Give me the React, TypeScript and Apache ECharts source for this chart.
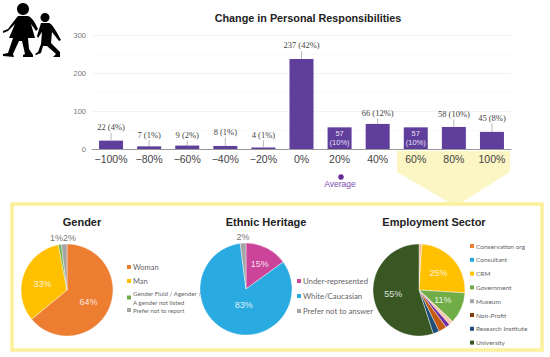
import React, { useEffect, useRef } from "react";
import * as echarts from "echarts";

const changeCategories = ["−100%", "−80%", "−60%", "−40%", "−20%", "0%", "20%", "40%", "60%", "80%", "100%"];
const changeCounts = [22, 7, 9, 8, 4, 237, 57, 66, 57, 58, 45];
const changeShares = ["4%", "1%", "2%", "1%", "1%", "42%", "10%", "12%", "10%", "10%", "8%"];
const insideBars = [6, 8];
const leaderPx = [8, 6, 5, 8.5, 7, 8, 0, 5.5, 0, 7.5, 8.5];
const yTicks = [0, 100, 200, 300];

const genderNames = ["Woman", "Man", "Gender Fluid / Agender /\nA gender not listed", "Prefer not to report"];
const genderValues = [64, 33, 1, 2];
const genderColors = ["#ED7D31", "#FFC000", "#70AD47", "#A5A5A5"];
const genderLabelShift = [[-2, 1], [0, 3], [0, 0], [0, 0]];

const ethnicNames = ["Under-represented", "White/Caucasian", "Prefer not to answer"];
const ethnicValues = [15, 83, 2];
const ethnicColors = ["#CC4499", "#29ABE2", "#A5A5A5"];
const ethnicLabelShift = [[2, -2], [8, -8], [0, 0]];

const sectorNames = ["Conservation org", "Consultant", "CRM", "Government", "Museum", "Non-Profit", "Research Institute", "University"];
const sectorLegendColors = ["#ED7D31", "#29A8E0", "#FFC000", "#70AD47", "#A5A5A5", "#843C0C", "#1F4E79", "#385723"];
const sectorSliceNames = ["Conservation org", "Consultant", "CRM", "Government", "Museum", "Other", "Non-Profit", "Research Institute", "University"];
const sectorSliceValues = [1, 0, 25, 11, 1.5, 1.5, 2.8, 2.2, 55];
const sectorSliceColors = ["#F4B183", "#29A8E0", "#FFC000", "#70AD47", "#F8CBAD", "#7030A0", "#C55A11", "#1F4E79", "#385723"];
const sectorLabelShift: Record<string, number[]> = { CRM: [4, 1], University: [4, 1] };

const FIGURE =
  "M23 3a6 6 0 1 1-0.01 0z M18 16L28 16C31 17 33 20 35 23L38 29L36 31L31 24L35 38L28 38L29 49L33 55L33 57L23 57L23 55L25 54L22 41L19 41L13 54L14 57L3 56L3 54L8 53L13 38L9 38L15 24L8 31L3 33L3 31L8 29L14 21Z M45 13a4.500 4.500 0 1 1-0.01 0z M41 23L49 23C52 24 54 28 56 31L61 40L59 41L52 32L51 43L60 52L60 57L53 57L56 54L47 46L43 46L41 53L36 55L35 54L38 52L41 44L42 32L38 38L37 36Z";
echarts.graphic.registerShape("children", echarts.graphic.extendPath(FIGURE as any, {} as any) as any);

export default function App() {
  const ref = useRef<HTMLDivElement>(null);
  useEffect(() => {
    const chart = echarts.init(ref.current!, undefined, { renderer: "svg" });
    const sans = "Liberation Sans";
    const outsideLabel = { position: "outside", color: "#555", fontSize: 9 };
    const pieBase = {
      type: "pie" as const, radius: 46, startAngle: 90, silent: true, avoidLabelOverlap: false,
      label: { show: true, position: "inside" as const, formatter: "{c}%", color: "#fff", fontSize: 9, fontFamily: sans, opacity: 0.85 },
      labelLine: { show: false, length: 3, length2: 0 }, itemStyle: { borderColor: "#fff", borderWidth: 0.4 },
    };
    const legendBase = {
      orient: "vertical" as const, icon: "rect", itemWidth: 4, itemHeight: 4, itemGap: 5, selectedMode: false,
      itemStyle: { borderWidth: 0 }, padding: 0,
      textStyle: { fontFamily: "Lato", fontSize: 6.5, lineHeight: 9, color: "#666", padding: [0, 0, 0, -3] },
    };
    const heading = { fontFamily: sans, fontSize: 11, fontWeight: "bold" as const, color: "#222" };
    chart.setOption({
      animation: false,
      backgroundColor: "#fff",
      title: [
        { text: "Change in Personal Responsibilities", left: 303, top: 7, textAlign: "center", textStyle: { ...heading, fontSize: 10.8 } },
        { text: "Gender", left: 77, top: 211, textAlign: "center", textStyle: heading },
        { text: "Ethnic Heritage", left: 261, top: 211, textAlign: "center", textStyle: heading },
        { text: "Employment Sector", left: 429, top: 211, textAlign: "center", textStyle: heading },
      ],
      grid: { left: 92, right: 39, top: 35, height: 114 },
      xAxis: { type: "category", data: changeCategories, axisTick: { show: false }, axisLine: { lineStyle: { color: "#999", width: 1 } }, axisLabel: { interval: 0, fontFamily: sans, fontSize: 10.5, color: "#444", margin: 4 }, z: 5 },
      yAxis: { type: "value", min: 0, max: 300, interval: 100, axisLine: { show: false }, axisTick: { show: false }, splitLine: { lineStyle: { color: "#f2f2f2" } }, minorSplitLine: { show: true, lineStyle: { color: "#f8f8f8" } }, minorTick: { show: false, splitNumber: 2 }, axisLabel: { fontFamily: sans, fontSize: 7.5, color: "#777", margin: 6, formatter: (v: number) => (yTicks.includes(v) ? String(v) : "") } },
      legend: [
        { ...legendBase, data: genderNames.slice(0, 2), left: 127, top: 262.5, textStyle: { ...legendBase.textStyle, fontSize: 7.5 } },
        { ...legendBase, data: [genderNames[2]], left: 127, top: 288.5, textStyle: { ...legendBase.textStyle, fontSize: 6.2 } },
        { ...legendBase, data: [genderNames[3]], left: 127, top: 305.5, textStyle: { ...legendBase.textStyle, fontSize: 6 } },
        { ...legendBase, data: ethnicNames, left: 297, top: 276.5, itemGap: 6, textStyle: { ...legendBase.textStyle, fontSize: 7.8 } },
        { ...legendBase, data: sectorNames.map((name, i) => ({ name, itemStyle: { color: sectorLegendColors[i] } })), left: 470, top: 241.5, itemGap: 4.8 },
      ],
      series: [
        {
          type: "bar", data: changeCounts, barWidth: 24, itemStyle: { color: "#5F3E9C" }, z: 3, silent: true,
          label: { show: true, position: "inside", formatter: (p: any) => (insideBars.includes(p.dataIndex) ? `${p.value}\n(${changeShares[p.dataIndex]})` : ""), color: "#E6E0F2", fontFamily: sans, fontSize: 7.5, lineHeight: 9 },
        },
        {
          type: "custom", data: changeCounts.map((v, i) => [i, v]), z: 4, silent: true,
          encode: { x: 0, y: 1 },
          renderItem: (params: any, api: any) => {
            const i = params.dataIndex;
            if (insideBars.includes(i)) return { type: "group", children: [] };
            const p = api.coord([i, api.value(1)]);
            const h = leaderPx[i];
            return {
              type: "group",
              children: [
                { type: "line", shape: { x1: p[0], y1: p[1], x2: p[0], y2: p[1] - h }, style: { stroke: "#999", lineWidth: 0.7 } },
                { type: "text", style: { x: p[0], y: p[1] - h - 1, text: `${changeCounts[i]} (${changeShares[i]})`, align: "center", verticalAlign: "bottom", fontFamily: "Liberation Serif", fontSize: 8.5, fill: "#444" } },
              ],
            };
          },
        },
        {
          ...pieBase, center: [67, 290],
          data: genderNames.map((name, i) => ({ name, value: genderValues[i], itemStyle: { color: genderColors[i] }, label: i >= 2 ? outsideLabel : undefined })),
          labelLayout: (p: any) => p.dataIndex === 2 ? { x: 56.5, y: 238, align: "center", verticalAlign: "middle" } : p.dataIndex === 3 ? { x: 69.5, y: 238, align: "center", verticalAlign: "middle" } : { dx: genderLabelShift[p.dataIndex][0], dy: genderLabelShift[p.dataIndex][1] },
        },
        {
          ...pieBase, center: [246, 289],
          data: ethnicNames.map((name, i) => ({ name, value: ethnicValues[i], itemStyle: { color: ethnicColors[i] }, label: i === 2 ? outsideLabel : undefined })),
          labelLayout: (p: any) => p.dataIndex === 2 ? { x: 243, y: 237, align: "center", verticalAlign: "middle" } : { dx: ethnicLabelShift[p.dataIndex][0], dy: ethnicLabelShift[p.dataIndex][1] },
        },
        {
          ...pieBase, center: [419, 290],
          data: sectorSliceNames.map((name, i) => ({ name, value: sectorSliceValues[i], itemStyle: { color: sectorSliceColors[i] }, label: sectorSliceValues[i] < 5 ? { show: false } : undefined })),
          labelLayout: (p: any) => { const s = sectorLabelShift[p.name]; return s ? { dx: s[0], dy: s[1] } : {}; },
        },
      ],
      graphic: [
        { type: "polygon", z: -1, silent: true, shape: { points: [[397, 151], [510, 151], [510, 172], [461, 203], [450, 203], [397, 172]] }, style: { fill: "#FBF6C4" } },
        { type: "rect", z: -1, silent: true, shape: { x: 12, y: 204, width: 530, height: 146 }, style: { fill: "#fff", stroke: "#FBF09C", lineWidth: 3.5 } },
        { type: "circle", silent: true, shape: { cx: 341, cy: 177, r: 2.8 }, style: { fill: "#6A2C9A" } },
        { type: "text", silent: true, style: { x: 340, y: 184, text: "Average", align: "center", verticalAlign: "middle", fontFamily: sans, fontSize: 8.5, fill: "#7B4BB0" } },
        { type: "children", silent: true, x: 0, y: 0, scaleX: 1, scaleY: 1, style: { fill: "#000" } },
      ],
    });
    return () => chart.dispose();
  }, []);
  return <div ref={ref} style={{ width: 550, height: 357, position: "fixed", left: 0, top: 0 }} />;
}
